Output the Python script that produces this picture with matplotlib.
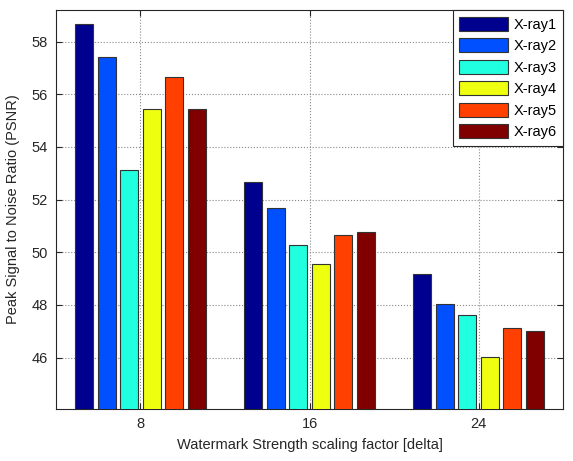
import numpy as np
import matplotlib
matplotlib.use('Agg')
import matplotlib.pyplot as plt

plt.rcParams['font.family'] = ['Liberation Sans', 'DejaVu Sans']

# PSNR per image at each watermark strength
deltas = [8, 16, 24]
series = ['X-ray1', 'X-ray2', 'X-ray3', 'X-ray4', 'X-ray5', 'X-ray6']
xray1 = [58.67, 52.67, 49.16]
xray2 = [57.43, 51.69, 48.04]
xray3 = [53.11, 50.27, 47.63]
xray4 = [55.44, 49.57, 46.04]
xray5 = [56.67, 50.67, 47.12]
xray6 = [55.44, 50.76, 47.03]
yticks = [46, 48, 50, 52, 54, 56, 58]

colors = ['#00008f', '#0050ff', '#20ffdf', '#efff10', '#ff4000', '#800000']
data = [xray1, xray2, xray3, xray4, xray5, xray6]

fig = plt.figure(figsize=(5.73, 4.61), dpi=100)
ax = fig.add_axes([0.0977, 0.1128, 0.885, 0.8655])

x = np.arange(len(deltas))
step = 0.1333
width = 0.107
for i, (name, vals) in enumerate(zip(series, data)):
    off = (i - 2.5) * step
    ax.bar(x + off, vals, width, bottom=0, color=colors[i], edgecolor='#333333',
           linewidth=0.8, label=name, zorder=3)

ax.set_xlim(-0.5, 2.5)
ax.set_ylim(44.05, 59.2)
ax.set_xticks(x)
ax.set_xticklabels([str(d) for d in deltas])
ax.set_yticks(yticks)
ax.grid(True, color='#888888', linestyle=':', linewidth=0.8, zorder=0)
ax.set_axisbelow(True)
ax.tick_params(direction='in', top=True, right=True, labelsize=10.5, length=4,
               colors='#262626', pad=6)
for s in ax.spines.values():
    s.set_color('#262626')
    s.set_linewidth(0.8)

ax.set_xlabel('Watermark Strength scaling factor [delta]', fontsize=10.5,
              color='#262626', labelpad=5)
ax.set_ylabel('Peak Signal to Noise Ratio (PSNR)', fontsize=10.5,
              color='#262626', labelpad=8)

leg = ax.legend(loc='upper right', fontsize=10.5, frameon=True, fancybox=False,
                borderaxespad=0, handlelength=3.3, handleheight=1.1,
                labelspacing=0.45, handletextpad=0.4, borderpad=0.45)
leg.get_frame().set_edgecolor('#262626')
leg.get_frame().set_linewidth(0.8)
leg.get_frame().set_alpha(1)

fig.savefig('out.png', dpi=100)
